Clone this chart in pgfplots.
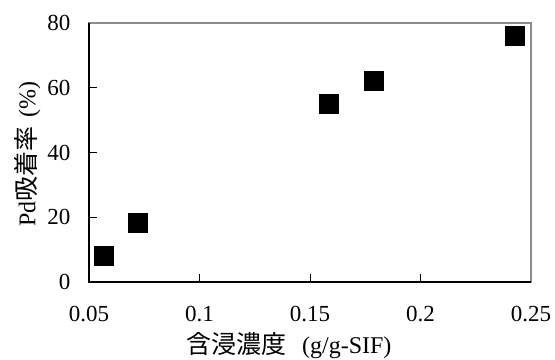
\documentclass[border=0pt]{standalone}
\usepackage{pgfplots}
\pgfplotsset{compat=1.18}
\usepackage{fontspec}
\setmainfont{Liberation Serif}
\newfontfamily\cjk{Noto Sans CJK JP}
\newcommand{\cj}[1]{{\fontsize{25}{27}\selectfont\cjk #1}}
\begin{document}
\begin{tikzpicture}[x=1pt,y=1pt]
\begin{axis}[
  scale only axis,
  width=442pt, height=259pt,
  xmin=0.05, xmax=0.25, ymin=0, ymax=80,
  xtick={0.05,0.1,0.15,0.2,0.25},
  xticklabels={0.05,0.1,0.15,0.2,0.25},
  ytick={0,20,40,60,80},
  yticklabels={0,20,40,60,80},
  /pgf/number format/assume math mode=true,
  tick align=inside,
  xtick pos=bottom, ytick pos=left,
  major tick length=8pt,
  tick style={black, line width=0.8pt},
  axis line style={gray!90, line width=1.2pt},
  tick label style={font=\fontsize{23}{25}\selectfont},
  xticklabel style={yshift=-21pt},
  yticklabel style={xshift=-15pt},
  xlabel={\cj{含浸濃度}\hspace{16pt}(g/g-SIF)},
  ylabel={Pd\cj{吸着率}\hspace{9pt}(\%)},
  every axis label/.append style={font=\fontsize{24}{26}\selectfont},
  xlabel style={at={(axis description cs:0.452,0)}, anchor=north, yshift=-47pt},
  ylabel style={at={(axis description cs:0,0.494)}, anchor=south, yshift=45pt},
  clip=false,
]
\addplot[only marks, mark=square*, mark size=9.5pt, mark options={fill=black, draw=black, rounded corners=1pt}] coordinates {
  (0.0568,8.0)
  (0.0719,18.3)
  (0.1586,55.1)
  (0.1790,62.3)
  (0.2424,76.2)
};
\draw[black, line width=1.2pt] (rel axis cs:0,1) -- (rel axis cs:0,0) -- (rel axis cs:1,0);
\end{axis}
\pgfresetboundingbox
\path ([shift={(-89pt,-78pt)}]current axis.south west) rectangle ([shift={(24pt,23pt)}]current axis.north east);
\end{tikzpicture}
\end{document}
